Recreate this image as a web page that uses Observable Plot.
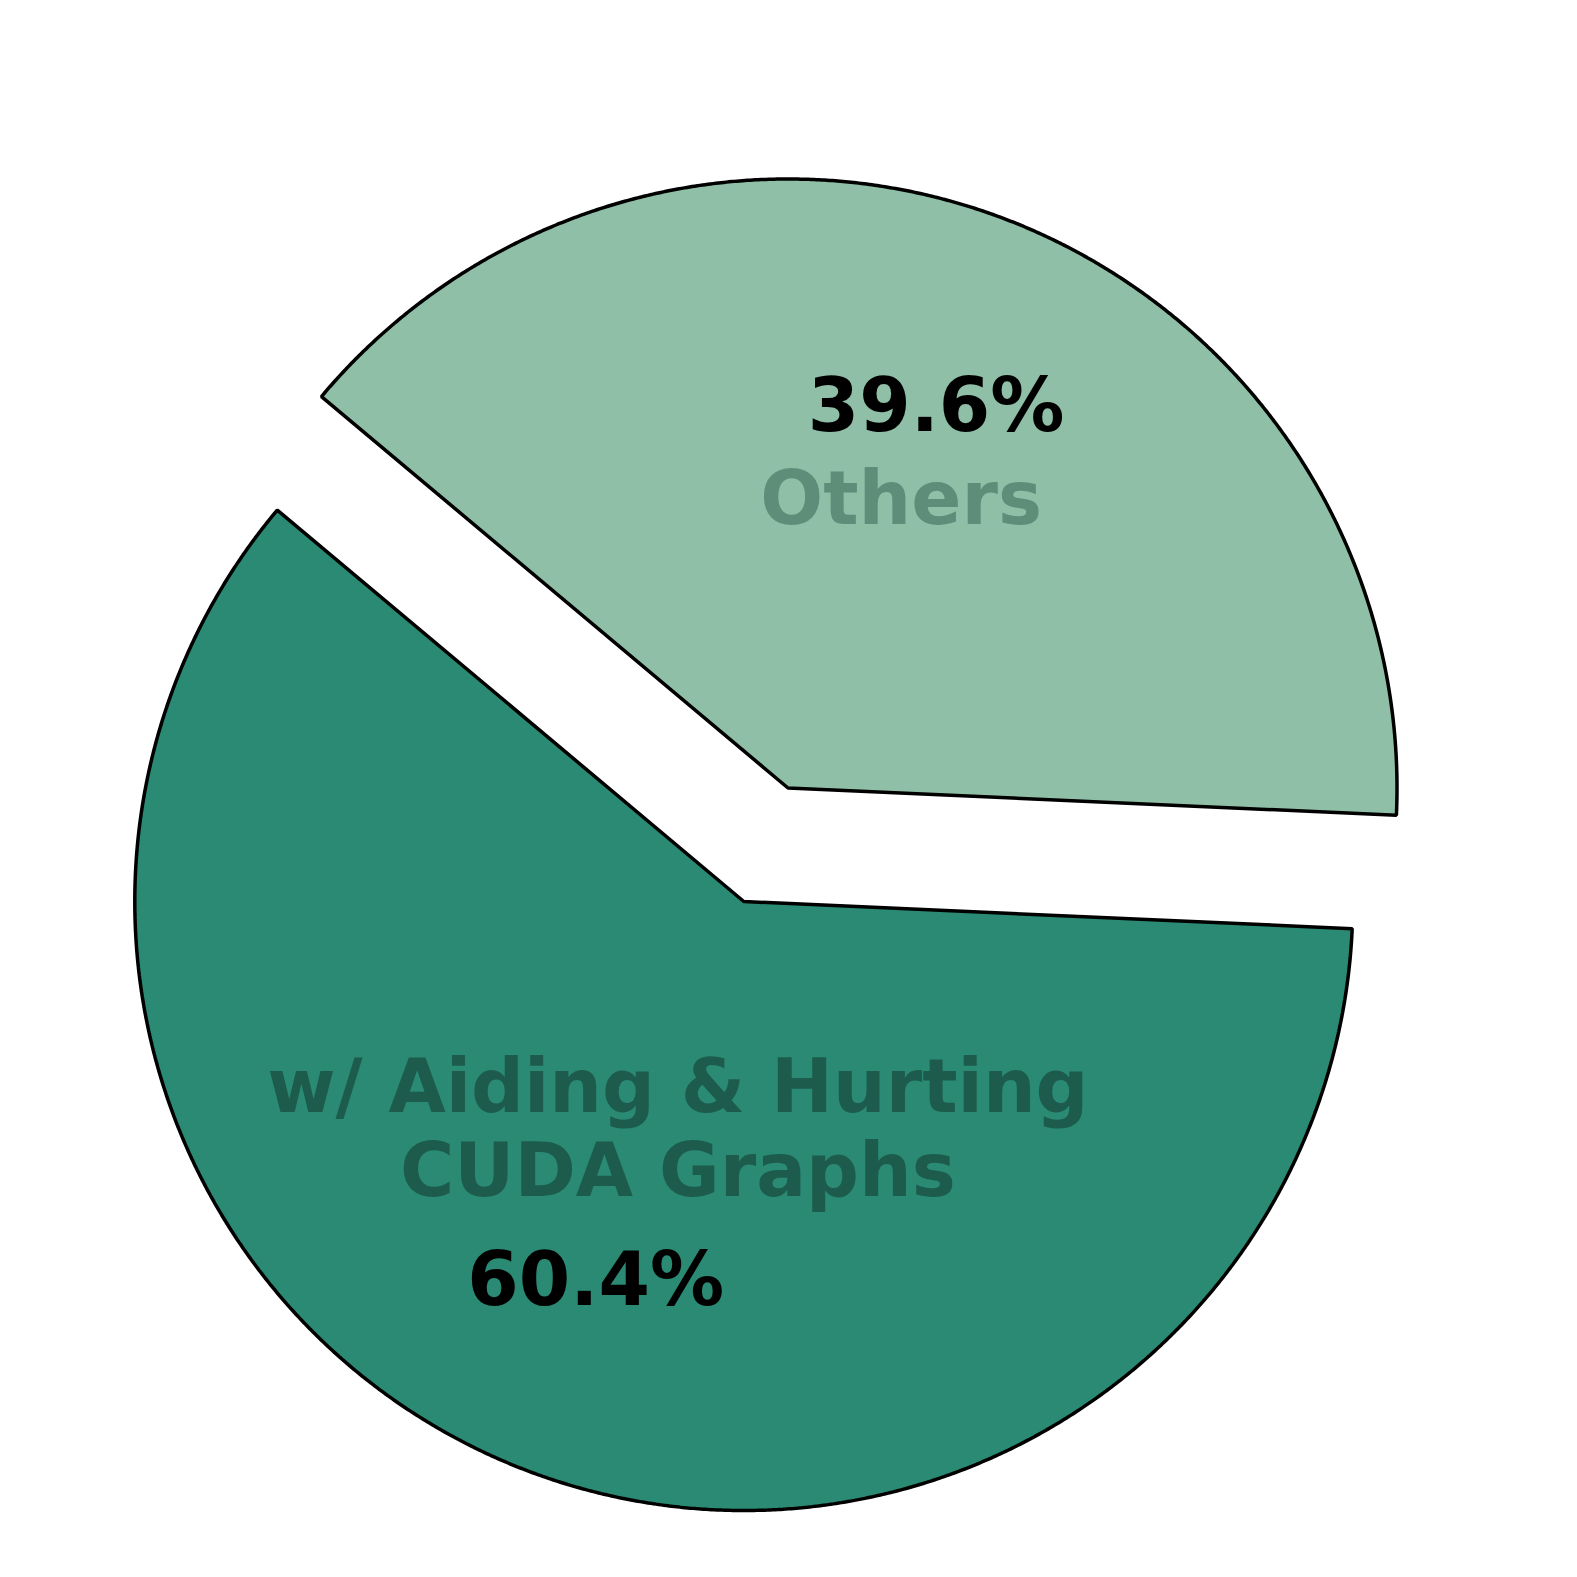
<!DOCTYPE html>
<html>
<head>
<meta charset="utf-8">
<script src="https://cdn.jsdelivr.net/npm/d3@7"></script>
<script src="https://cdn.jsdelivr.net/npm/@observablehq/plot@0.6"></script>
<style>
  html, body { margin: 0; padding: 0; background: #ffffff; }
  #chart svg { display: block; }
</style>
</head>
<body>
<div id="chart"></div>
<script>
// ---- data ----
const labels = ["w/ Aiding & Hurting\nCUDA Graphs", "Others"];
const values = [60.4, 39.6];
const pctLabels = ["60.4%", "39.6%"];
const explode = [0.2, 0];

// ---- style / layout ----
const sliceColors = ["#2a8a74", "#8fbfa7"];
const labelColors = ["#1d5c4c", "#5e8e79"];
const startAngle = 140;          // degrees, counter-clockwise
const pctDistance = 0.67;
const labelDistance = [0.386, 0.512];
const labelAngleShift = [5, 0];
const W = 1577, H = 1577;
const cx = 787.5, cy = 787.5, Rpx = 609;
const fontSize = 74;

const rad = d => d * Math.PI / 180;
const total = d3.sum(values);
let cum = 0;
const slices = values.map((v, i) => {
  const t1 = startAngle + cum / total * 360;
  cum += v;
  const t2 = startAngle + cum / total * 360;
  const mid = (t1 + t2) / 2;
  const ox = explode[i] * Math.cos(rad(mid));
  const oy = explode[i] * Math.sin(rad(mid));
  const pts = [{x: ox, y: oy}];
  const n = Math.ceil((t2 - t1) / 0.25);
  for (let k = 0; k <= n; k++) {
    const t = t1 + (t2 - t1) * k / n;
    pts.push({x: ox + Math.cos(rad(t)), y: oy + Math.sin(rad(t))});
  }
  const la = mid + labelAngleShift[i];
  return {
    i, pts, color: sliceColors[i],
    pct: {x: ox + pctDistance * Math.cos(rad(mid)), y: oy + pctDistance * Math.sin(rad(mid)), text: pctLabels[i]},
    lab: {x: ox + labelDistance[i] * Math.cos(rad(la)), y: oy + labelDistance[i] * Math.sin(rad(la)), text: labels[i], color: labelColors[i]}
  };
});

const marks = [];
for (const s of slices) {
  marks.push(Plot.line(s.pts, {
    x: "x", y: "y", fill: s.color, stroke: "#000000", strokeWidth: 3.5,
    curve: "linear-closed", strokeLinejoin: "miter"
  }));
}
for (const s of slices) {
  marks.push(Plot.text([s.lab], {
    x: "x", y: "y", text: "text", fill: s.lab.color,
    fontSize, fontWeight: "bold", fontFamily: "DejaVu Sans",
    textAnchor: "middle", lineAnchor: "middle", lineHeight: 1.128
  }));
  marks.push(Plot.text([s.pct], {
    x: "x", y: "y", text: "text", fill: "#000000",
    fontSize, fontWeight: "bold", fontFamily: "DejaVu Sans",
    textAnchor: "middle", lineAnchor: "middle"
  }));
}

const chart = Plot.plot({
  width: W, height: H, margin: 0,
  style: {background: "#ffffff", overflow: "visible"},
  x: {domain: [-cx / Rpx, (W - cx) / Rpx], axis: null},
  y: {domain: [-(H - cy) / Rpx, cy / Rpx], axis: null},
  marks
});
document.getElementById("chart").appendChild(chart);
</script>
</body>
</html>
